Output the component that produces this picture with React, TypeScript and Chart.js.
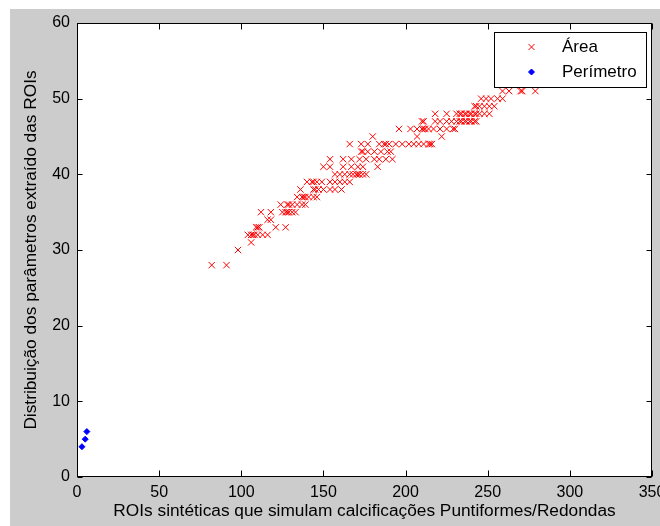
import React, { useEffect, useRef } from "react";
import { Chart, registerables } from "chart.js";

Chart.register(...registerables);

// ---- Data ----
const xTicks = [0, 50, 100, 150, 200, 250, 300, 350];
const yTicks = [0, 10, 20, 30, 40, 50, 60];

// Área: y levels and the x values of the markers on each level
const areaLevels = [28, 30, 31, 32, 33, 34, 35, 36, 37, 38, 39, 40, 41, 42, 43, 44, 45, 46, 47, 48, 49, 50, 51];
const areaXByLevel = [
  [82, 91],
  [98],
  [106],
  [104, 106, 107, 108, 110, 113, 116],
  [109, 110, 111, 121, 127],
  [116, 118],
  [112, 118, 125, 127, 128, 129, 131, 133],
  [124, 128, 129, 131, 134, 137, 139],
  [134, 137, 138, 139, 141, 144, 146],
  [136, 144, 145, 147, 150, 154, 157, 161],
  [140, 143, 144, 146, 149, 154, 157, 160, 163, 166],
  [157, 160, 163, 166, 168, 170, 171, 172, 174, 176],
  [150, 154, 162, 167, 171, 174, 183],
  [154, 162, 167, 172, 176, 181, 184, 188, 192],
  [173, 174, 177, 181, 185, 189, 191],
  [166, 173, 177, 184, 187, 188, 190, 194, 198, 202, 205, 208, 211, 214, 215, 216],
  [180, 207, 222],
  [196, 203, 207, 210, 211, 212, 214, 217, 221, 225, 229, 230],
  [210, 211, 218, 221, 225, 228, 231, 233, 234, 236, 237, 239, 240, 242, 243],
  [218, 225, 231, 233, 234, 236, 237, 239, 240, 242, 243, 245, 248, 251],
  [242, 243, 245, 248, 251, 254],
  [246, 249, 252, 256, 259],
  [259, 263, 270, 271, 279],
];

// Perímetro
const perimeterX = [3, 5, 6];
const perimeterY = [4, 5, 6];

const xTitle = "ROIs sintéticas que simulam calcificações Puntiformes/Redondas";
const yTitle = "Distribuição dos parâmetros extraído das ROIs";
const seriesLabels = ["Área", "Perímetro"];

const FONT = "'Liberation Sans', Arial, sans-serif";

const areaData = areaLevels.flatMap((y, i) => areaXByLevel[i].map((x) => ({ x, y })));
const perimeterData = perimeterX.map((x, i) => ({ x, y: perimeterY[i] }));

const bgPlugin = {
  id: "plotBg",
  beforeDraw(chart: any) {
    const { ctx, chartArea: a } = chart;
    ctx.save();
    ctx.fillStyle = "#ffffff";
    ctx.fillRect(a.left, a.top, a.right - a.left, a.bottom - a.top);
    ctx.restore();
  },
};

const axesPlugin = {
  id: "matlabAxes",
  afterDraw(chart: any) {
    const { ctx, chartArea: a, scales } = chart;
    ctx.save();
    ctx.strokeStyle = "#000000";
    ctx.lineWidth = 1;
    const L = Math.round(a.left) + 0.5;
    const R = Math.round(a.right) - 0.5;
    const T = Math.round(a.top) + 0.5;
    const B = Math.round(a.bottom) - 0.5;
    ctx.beginPath();
    xTicks.forEach((v) => {
      const px = Math.round(scales.x.getPixelForValue(v)) + 0.5;
      ctx.moveTo(px, B);
      ctx.lineTo(px, B - 6);
      ctx.moveTo(px, T);
      ctx.lineTo(px, T + 6);
    });
    yTicks.forEach((v) => {
      const py = Math.round(scales.y.getPixelForValue(v)) + 0.5;
      ctx.moveTo(L, py);
      ctx.lineTo(L + 5, py);
      ctx.moveTo(R, py);
      ctx.lineTo(R - 5, py);
    });
    ctx.stroke();
    ctx.strokeRect(L, T, R - L, B - T);
    ctx.restore();
  },
};

const legendPlugin = {
  id: "matlabLegend",
  afterDraw(chart: any) {
    const { ctx, chartArea: a } = chart;
    const w = 152;
    const h = 55;
    const left = Math.round(a.right) - 6 - w;
    const top = Math.round(a.top) + 9;
    ctx.save();
    ctx.fillStyle = "#ffffff";
    ctx.fillRect(left, top, w, h);
    ctx.strokeStyle = "#000000";
    ctx.lineWidth = 1;
    ctx.strokeRect(left + 0.5, top + 0.5, w, h);
    const mx = left + 37.5;
    const tx = left + 68;
    const rows = [top + 15, top + 40];
    // Área marker (x)
    ctx.strokeStyle = "#ff0000";
    ctx.beginPath();
    ctx.moveTo(mx - 3, rows[0] - 3);
    ctx.lineTo(mx + 3, rows[0] + 3);
    ctx.moveTo(mx + 3, rows[0] - 3);
    ctx.lineTo(mx - 3, rows[0] + 3);
    ctx.stroke();
    // Perímetro marker (diamond)
    ctx.fillStyle = "#0000ff";
    ctx.strokeStyle = "#0000ff";
    ctx.beginPath();
    ctx.moveTo(mx, rows[1] - 3);
    ctx.lineTo(mx + 3, rows[1]);
    ctx.lineTo(mx, rows[1] + 3);
    ctx.lineTo(mx - 3, rows[1]);
    ctx.closePath();
    ctx.fill();
    ctx.stroke();
    ctx.fillStyle = "#000000";
    ctx.font = `17px ${FONT}`;
    ctx.textBaseline = "middle";
    ctx.textAlign = "left";
    ctx.fillText(seriesLabels[0], tx, rows[0]);
    ctx.fillText(seriesLabels[1], tx, rows[1]);
    ctx.restore();
  },
};

export default function App() {
  const ref = useRef<HTMLCanvasElement | null>(null);
  useEffect(() => {
    if (!ref.current) return;
    const chart = new Chart(ref.current, {
      type: "scatter",
      data: {
        datasets: [
          {
            label: seriesLabels[0],
            data: areaData,
            pointStyle: "crossRot",
            pointRadius: 4.5,
            pointBorderWidth: 1,
            borderColor: "#ff0000",
            backgroundColor: "#ff0000",
          },
          {
            label: seriesLabels[1],
            data: perimeterData,
            pointStyle: "rectRot",
            pointRadius: 3,
            pointBorderWidth: 1,
            borderColor: "#0000ff",
            backgroundColor: "#0000ff",
          },
        ],
      },
      options: {
        responsive: false,
        animation: false,
        devicePixelRatio: 1,
        layout: { padding: { left: 0, right: 8, top: 14, bottom: 0 } },
        plugins: {
          legend: { display: false },
          tooltip: { enabled: false },
        },
        scales: {
          x: {
            type: "linear",
            min: 0,
            max: 350,
            afterBuildTicks: (s: any) => {
              s.ticks = xTicks.map((v) => ({ value: v }));
            },
            ticks: {
              color: "#000000",
              font: { family: FONT, size: 16 },
              padding: 6,
              maxRotation: 0,
              autoSkip: false,
            },
            grid: { display: false, drawTicks: false },
            border: { display: false },
            title: {
              display: true,
              text: xTitle,
              color: "#000000",
              font: { family: FONT, size: 17.3 },
              padding: { top: 0, bottom: 4 },
            },
            afterFit: (s: any) => {
              s.height = 49;
              s.paddingLeft = 0;
              s.paddingRight = 0;
            },
          },
          y: {
            type: "linear",
            min: 0,
            max: 60,
            afterBuildTicks: (s: any) => {
              s.ticks = yTicks.map((v) => ({ value: v }));
            },
            ticks: {
              color: "#000000",
              font: { family: FONT, size: 16 },
              padding: 7,
              autoSkip: false,
            },
            grid: { display: false, drawTicks: false },
            border: { display: false },
            title: {
              display: true,
              text: yTitle,
              color: "#000000",
              font: { family: FONT, size: 17.3 },
              padding: { top: 11, bottom: 0 },
            },
            afterFit: (s: any) => {
              s.width = 67;
              s.paddingTop = 0;
              s.paddingBottom = 0;
            },
          },
        },
      },
      plugins: [bgPlugin, axesPlugin, legendPlugin],
    });
    return () => chart.destroy();
  }, []);

  return (
    <div
      style={{
        position: "absolute",
        left: 10,
        top: 9,
        width: 650,
        height: 517,
        background: "#cccccc",
      }}
    >
      <canvas ref={ref} width={650} height={517} style={{ display: "block", width: 650, height: 517 }} />
    </div>
  );
}
